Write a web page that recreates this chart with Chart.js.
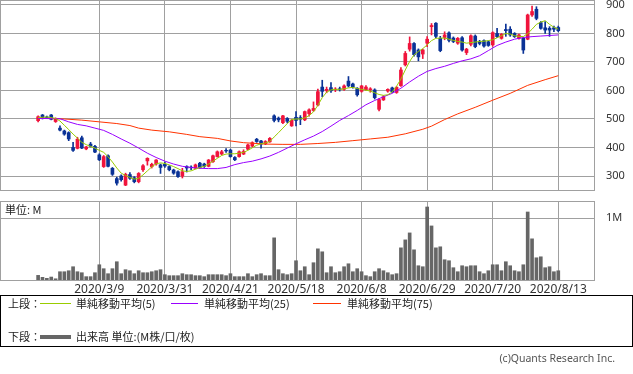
<!DOCTYPE html>
<html>
<head>
<meta charset="utf-8">
<script src="https://cdn.jsdelivr.net/npm/chart.js@4/dist/chart.umd.min.js"></script>
<style>
body { margin: 0; background: #fff; width: 633px; height: 374px; overflow: hidden; position: relative;
  font-family: 'Noto Sans', 'Noto Sans CJK JP', sans-serif; }
canvas { position: absolute; left: 0; }
#price { top: 0; }
#vol { top: 201px; }
.t { position: absolute; font-size: 11px; line-height: 13px; color: #222; white-space: nowrap;
  font-family: 'Noto Sans CJK JP', 'Noto Sans', sans-serif; }
.ln { position: absolute; height: 1px; width: 31px; left: 40px; }
#box { position: absolute; left: 0; top: 295px; width: 631px; height: 50px; border: 1px solid #000; }
</style>
</head>
<body>
<canvas id="price" width="633" height="191"></canvas>
<canvas id="vol" width="633" height="99"></canvas>
<div class="t" style="left:5px;top:203px;">単位: M</div>
<div id="box"></div>
<div class="t" style="left:8px;top:297px;">上段：</div>
<div class="ln" style="top:303px;background:#99cc00;"></div>
<div class="t" style="left:76px;top:297px;">単純移動平均(5)</div>
<div class="ln" style="left:171px;width:27px;top:303px;background:#9900ff;"></div>
<div class="t" style="left:204px;top:297px;">単純移動平均(25)</div>
<div class="ln" style="left:313px;width:28px;top:303px;background:#ff3300;"></div>
<div class="t" style="left:347px;top:297px;">単純移動平均(75)</div>
<div class="t" style="left:8px;top:330px;">下段：</div>
<div class="ln" style="top:335px;height:4px;background:#666;"></div>
<div class="t" style="left:76px;top:330px;">出来高 単位:(M株/口/枚)</div>
<div class="t" style="right:18px;top:352px;color:#555;font-size:10.5px;font-family:'Noto Sans',sans-serif;">(c)Quants Research Inc.</div>
<script>
// x axis labels (trading-day index of each label)
const tickIdx = [14, 29, 44, 59, 74, 89, 104, 119];
const tickDates = ['2020/3/9', '2020/3/31', '2020/4/21', '2020/5/18', '2020/6/8', '2020/6/29', '2020/7/20', '2020/8/13'];
const priceTicks = [300, 400, 500, 600, 700, 800, 900];

const opens = [494,514,507,514,491,468,458,452,400,397, 434,395,412,404,374,333,371,327,291,300,
  268,305,294,280,322,353,333,342,339,341, 333,321,315,300,333,331,327,345,342,334,
  350,368,377,390,391,365,368,377,394,405, 429,423,413,420,511,503,487,502,476,506,
  505,497,519,530,549,612,600,610,603,606, 604,633,623,608,597,603,603,602,534,567,
  598,609,593,617,690,745,765,742,728,766, 824,836,783,786,802,784,766,785,733,762,
  791,771,775,771,760,800,783,814,815,800, 783,783,780,865,885,838,820,818,820,821];
const highs = [511,516,510,516,504,476,461,455,418,436, 440,404,418,408,378,372,374,330,296,304,
  310,312,298,312,340,364,345,358,342,348, 336,324,318,327,336,336,342,348,345,358,
  373,388,390,396,394,368,388,392,412,420, 432,425,424,435,515,507,513,505,498,526,
  512,528,536,560,605,636,612,628,610,612, 620,649,626,610,618,617,610,606,572,582,
  606,612,614,680,737,788,768,746,745,789, 835,838,790,806,806,788,786,789,748,795,
  795,776,778,774,806,818,800,833,824,803, 798,786,868,896,894,842,842,824,826,826];
const lows = [490,500,502,497,488,458,443,424,386,395, 396,392,402,382,354,330,332,302,268,282,
  266,288,276,276,316,338,328,338,309,330, 318,306,295,293,314,322,325,327,330,332,
  348,366,374,383,366,354,366,375,392,402, 418,398,410,418,490,490,484,486,474,476,
  480,494,510,527,546,578,592,593,596,598, 600,612,608,580,594,600,594,570,528,565,
  594,593,590,614,686,738,720,704,712,754, 795,785,736,778,770,768,762,738,726,756,
  750,760,752,755,755,785,780,790,790,786, 780,730,778,860,848,815,800,790,806,806];
const closes = [508,503,505,499,502,461,447,430,390,429, 398,402,404,384,357,368,334,306,275,287,
  306,292,280,309,336,362,341,356,330,335, 322,310,298,315,328,329,339,330,334,356,
  371,385,385,388,368,357,385,386,409,417, 421,412,421,432,495,497,511,492,496,495,
  499,526,532,537,596,597,604,599,605,604, 616,616,612,585,616,612,606,575,568,578,
  604,596,611,672,730,765,726,718,742,780, 828,790,740,795,776,772,783,742,745,792,
  754,765,756,758,803,789,797,810,795,789, 795,742,865,877,853,818,812,812,815,810];
// volume in millions
const volumes = [0.075,0.043,0.027,0.048,0.02,0.134,0.134,0.15,0.215,0.134,
  0.118,0.054,0.054,0.118,0.247,0.183,0.102,0.183,0.296,0.102,
  0.167,0.15,0.102,0.15,0.118,0.118,0.134,0.15,0.167,0.086,
  0.07,0.07,0.07,0.102,0.086,0.086,0.07,0.07,0.054,0.086,
  0.086,0.086,0.086,0.07,0.102,0.054,0.054,0.054,0.102,0.054,
  0.086,0.102,0.07,0.07,0.683,0.167,0.102,0.086,0.102,0.312,
  0.15,0.215,0.086,0.28,0.505,0.457,0.118,0.215,0.118,0.134,
  0.215,0.263,0.134,0.183,0.134,0.07,0.054,0.134,0.183,0.15,
  0.118,0.086,0.102,0.521,0.65,0.763,0.489,0.231,0.215,1.183,
  0.876,0.521,0.538,0.328,0.312,0.199,0.134,0.231,0.215,0.231,
  0.231,0.134,0.102,0.15,0.247,0.247,0.15,0.296,0.231,0.15,
  0.134,0.247,1.102,0.667,0.36,0.376,0.199,0.215,0.134,0.15];

const ma5 = [505,506,507,505,502,493,478,463,447,433, 418,410,404,398,390,383,368,349,328,310,
  302,295,289,292,304,318,332,343,346,344, 339,333,326,318,316,318,324,330,334,342,
  352,362,372,377,378,378,380,383,390,399, 408,413,416,421,437,452,468,484,498,500,
  500,504,512,525,548,575,594,602,604,604, 606,609,611,607,604,601,598,592,586,583,
  585,595,615,640,672,702,725,737,747,760, 775,783,784,784,780,776,772,770,766,768,
  770,772,773,775,778,785,792,800,798,792, 790,789,800,815,832,840,845,832,822,815];
const ma25Idx = [0,5,7,9,11,13,15,17,19,21,23,25,27,29,31,33,35,37,39,41,43,45,47,49,51,53,55,57,59,
  61,63,65,67,69,71,73,75,77,79,81,83,85,87,89,91,93,95,97,99,101,103,105,107,109,111,113,115,117,119];
const ma25 = [502,501,490,481,476,468,460,446,430,415,398,380,365,352,342,334,330,327,326,326,330,340,347,352,360,370,383,398,413,
  427,440,456,475,495,512,530,550,565,578,590,608,630,650,667,677,685,695,704,711,722,740,758,770,780,786,789,791,793,795];
const ma75Idx = [0,6,10,14,18,21,23,26,30,34,37,41,44,47,52,56,60,64,68,72,76,80,84,88,90,93,96,100,104,108,112,116,119];
const ma75 = [503,500,496,490,484,477,468,461,455,446,438,432,423,417,412,411,411,414,418,424,430,436,448,464,475,498,518,541,566,590,618,638,652];

const UP = '#f0143c', DOWN = '#0a3296';
const cols = closes.map((c, i) => c >= opens[i] ? UP : DOWN);
const GRID = '#a0a0a0';

Chart.defaults.font.family = "'Noto Sans', 'Noto Sans CJK JP', sans-serif";
Chart.defaults.color = '#333';

const frame = {
  id: 'frame',
  afterDraw(c) {
    const a = c.chartArea, x = c.ctx;
    x.save();
    x.strokeStyle = GRID;
    x.lineWidth = 1;
    x.strokeRect(a.left + 0.5, a.top + 0.5, a.right - a.left - 1, a.bottom - a.top);
    x.restore();
  }
};

function xAxis(showLabels) {
  return {
    type: 'linear', min: -8.72, max: 127.4, offset: false,
    afterBuildTicks: s => { s.ticks = tickIdx.map(v => ({ value: v })); },
    afterFit: s => { s.height = showLabels ? 20 : 1; s.paddingLeft = 0; s.paddingRight = 0; },
    grid: { color: GRID, drawTicks: false, offset: false },
    border: { display: false },
    ticks: { display: showLabels, autoSkip: false, maxRotation: 0, padding: 2, color: '#333',
      font: { size: 12 }, callback: v => tickDates[tickIdx.indexOf(v)] }
  };
}

new Chart(document.getElementById('price'), {
  type: 'bar',
  data: {
    datasets: [
      { type: 'line', data: ma5.map((v, i) => ({ x: i, y: v })), borderColor: '#99cc00', borderWidth: 1,
        pointRadius: 0, tension: 0, order: 0 },
      { type: 'line', data: ma25.map((v, i) => ({ x: ma25Idx[i], y: v })), borderColor: '#9900ff', borderWidth: 1,
        pointRadius: 0, tension: 0, order: 0 },
      { type: 'line', data: ma75.map((v, i) => ({ x: ma75Idx[i], y: v })), borderColor: '#ff3300', borderWidth: 1,
        pointRadius: 0, tension: 0, order: 0 },
      { data: opens.map((o, i) => ({ x: i, y: [o, closes[i]] })), backgroundColor: cols,
        barThickness: 3, grouped: false, order: 1 },
      { data: highs.map((h, i) => ({ x: i, y: [lows[i], h] })), backgroundColor: cols,
        barThickness: 1, grouped: false, order: 2 }
    ]
  },
  options: {
    responsive: false, animation: false, devicePixelRatio: 1,
    layout: { padding: 0 },
    plugins: { legend: { display: false }, tooltip: { enabled: false } },
    scales: {
      x: xAxis(false),
      y: {
        position: 'right', min: 250.9, max: 917.5,
        afterBuildTicks: s => { s.ticks = priceTicks.map(v => ({ value: v })); },
        afterFit: s => { s.width = 38; s.paddingTop = 0; s.paddingBottom = 0; },
        grid: { color: GRID, drawTicks: false },
        border: { display: false },
        ticks: { padding: 11, color: '#333', font: { size: 11 } }
      }
    }
  },
  plugins: [frame]
});

new Chart(document.getElementById('vol'), {
  type: 'bar',
  data: {
    datasets: [
      { data: volumes.map((v, i) => ({ x: i, y: v })), backgroundColor: '#666666', barThickness: 3 }
    ]
  },
  options: {
    responsive: false, animation: false, devicePixelRatio: 1,
    layout: { padding: 0 },
    plugins: { legend: { display: false }, tooltip: { enabled: false } },
    scales: {
      x: xAxis(true),
      y: {
        position: 'right', min: 0, max: 1.28,
        afterBuildTicks: s => { s.ticks = [{ value: 1 }]; },
        afterFit: s => { s.width = 38; s.paddingTop = 0; s.paddingBottom = 0; },
        grid: { color: GRID, drawTicks: false },
        border: { display: false },
        ticks: { padding: 11, color: '#333', font: { size: 11 }, callback: v => v + 'M' }
      }
    }
  },
  plugins: [frame]
});
</script>
</body>
</html>
